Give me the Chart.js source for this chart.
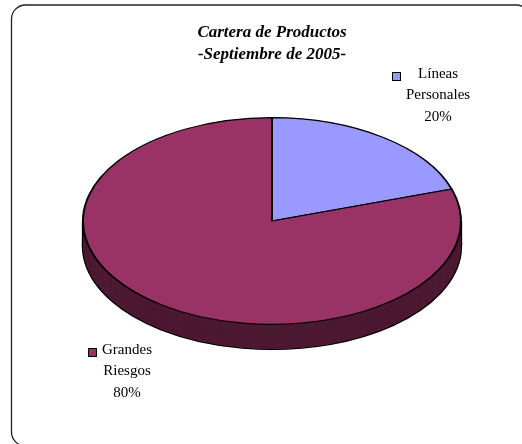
<!DOCTYPE html>
<html><head><meta charset="utf-8">
<script src="https://cdn.jsdelivr.net/npm/chart.js@4"></script>
<style>html,body{margin:0;padding:0;background:#fff;}canvas{display:block;}</style>
</head><body>
<canvas id="c" width="522" height="444"></canvas>
<script>
// ---- data ----
const titleLines = ['Cartera de Productos', '-Septiembre de 2005-'];
const categories = ['Líneas Personales', 'Grandes Riesgos'];
const values = [20, 80];

// ---- style ----
const topColors = ['#9999FF', '#993366'];
const sideColors = ['#4C4C80', '#4D1933'];
const TILT = 0.547;   // vertical squash of the pie
const DEPTH = 25;     // thickness of the 3D side, px
const KEY = 9, GAP = 5, LINE_H = 21.5;

function squash(ctx, cx, cy) {
  ctx.translate(cx, cy); ctx.scale(1, TILT); ctx.translate(-cx, -cy);
}

let squashed = false;
const pie3d = {
  id: 'pie3d',
  beforeDatasetsDraw(chart) {
    const ctx = chart.ctx;
    const arcs = chart.getDatasetMeta(0).data;
    if (!arcs.length) return;
    const cx = arcs[0].x, cy = arcs[0].y, r = arcs[0].outerRadius;
    const dU = DEPTH / TILT;
    const drawLayer = (off, bw) => {
      arcs.forEach((arc, i) => {
        const o = arc.options;
        arc.options = Object.assign(Object.create(o), {backgroundColor: sideColors[i], borderColor: '#000', borderWidth: bw});
        ctx.save(); ctx.translate(0, off); arc.draw(ctx); ctx.restore();
        arc.options = o;
      });
    };
    ctx.save(); squash(ctx, cx, cy);
    drawLayer(dU, 2.4);
    for (let d = dU - 0.8; d > 0; d -= 0.8) drawLayer(d, 0);
    ctx.restore();
    ctx.save();
    ctx.strokeStyle = '#000'; ctx.lineWidth = 1.3;
    ctx.beginPath();
    ctx.moveTo(cx - r - 0.5, cy); ctx.lineTo(cx - r - 0.5, cy + DEPTH);
    ctx.moveTo(cx + r + 0.5, cy); ctx.lineTo(cx + r + 0.5, cy + DEPTH);
    ctx.stroke();
    ctx.restore();
    ctx.save(); squash(ctx, cx, cy);
    squashed = true;
  },
  afterDatasetsDraw(chart) {
    if (squashed) { chart.ctx.restore(); squashed = false; }
  },
  afterDraw(chart) {
    const ctx = chart.ctx;
    const arcs = chart.getDatasetMeta(0).data;
    // frame
    ctx.save();
    ctx.strokeStyle = '#222'; ctx.lineWidth = 1.3;
    const fx = 11.5, fy = 5, fw = 518.5, fh = 441, fr = 14;
    ctx.beginPath();
    ctx.moveTo(fx + fr, fy); ctx.lineTo(fx + fw - fr, fy);
    ctx.arcTo(fx + fw, fy, fx + fw, fy + fr, fr);
    ctx.lineTo(fx + fw, fy + fh - fr);
    ctx.arcTo(fx + fw, fy + fh, fx + fw - fr, fy + fh, fr);
    ctx.lineTo(fx + fr, fy + fh);
    ctx.arcTo(fx, fy + fh, fx, fy + fh - fr, fr);
    ctx.lineTo(fx, fy + fr);
    ctx.arcTo(fx, fy, fx + fr, fy, fr);
    ctx.closePath(); ctx.stroke();
    ctx.restore();
    if (!arcs.length) return;
    // title
    ctx.save();
    ctx.fillStyle = '#000'; ctx.textAlign = 'center'; ctx.textBaseline = 'middle';
    ctx.font = 'italic bold 17px "Liberation Serif"';
    titleLines.forEach((t, j) => ctx.fillText(t, arcs[0].x, 33 + j * 22));
    ctx.restore();
    // data labels with legend keys
    const total = values.reduce((a, b) => a + b, 0);
    ctx.save();
    ctx.font = '15px "Liberation Serif"';
    ctx.textAlign = 'center'; ctx.textBaseline = 'middle';
    arcs.forEach((arc, i) => {
      const mid = (arc.startAngle + arc.endAngle) / 2;
      const c = Math.cos(mid), s = Math.sin(mid);
      const lines = categories[i].split(' ').concat([Math.round(values[i] / total * 100) + '%']);
      const w = Math.max(...lines.map(l => ctx.measureText(l).width));
      const boxW = KEY + GAP + w;
      const ax = arc.x + 1.08 * arc.outerRadius * c;
      const ay = arc.y + 1.5 * arc.outerRadius * TILT * s + (s > 0 ? DEPTH : 0);
      const left = c >= 0 ? ax : ax - boxW;
      const tx = left + KEY + GAP + w / 2;
      const y0 = ay - LINE_H * (lines.length - 1) / 2;
      ctx.fillStyle = '#000';
      lines.forEach((l, j) => ctx.fillText(l, tx, y0 + j * LINE_H));
      const ky = Math.round(y0 - 2) + 0.5;
      ctx.fillStyle = topColors[i];
      ctx.fillRect(Math.round(left) + 0.5, ky, KEY - 1, KEY - 1);
      ctx.strokeStyle = '#000'; ctx.lineWidth = 1;
      ctx.strokeRect(Math.round(left) + 0.5, ky, KEY - 1, KEY - 1);
    });
    ctx.restore();
  }
};

new Chart(document.getElementById('c'), {
  type: 'pie',
  data: {
    labels: categories,
    datasets: [{ data: values, backgroundColor: topColors, borderColor: '#000', borderWidth: 2 }]
  },
  options: {
    responsive: false,
    animation: false,
    events: [],
    layout: { padding: { left: 82, right: 60, top: 31, bottom: 33 } },
    plugins: { legend: { display: false }, title: { display: false }, tooltip: { enabled: false } }
  },
  plugins: [pie3d]
});
</script>
</body></html>
